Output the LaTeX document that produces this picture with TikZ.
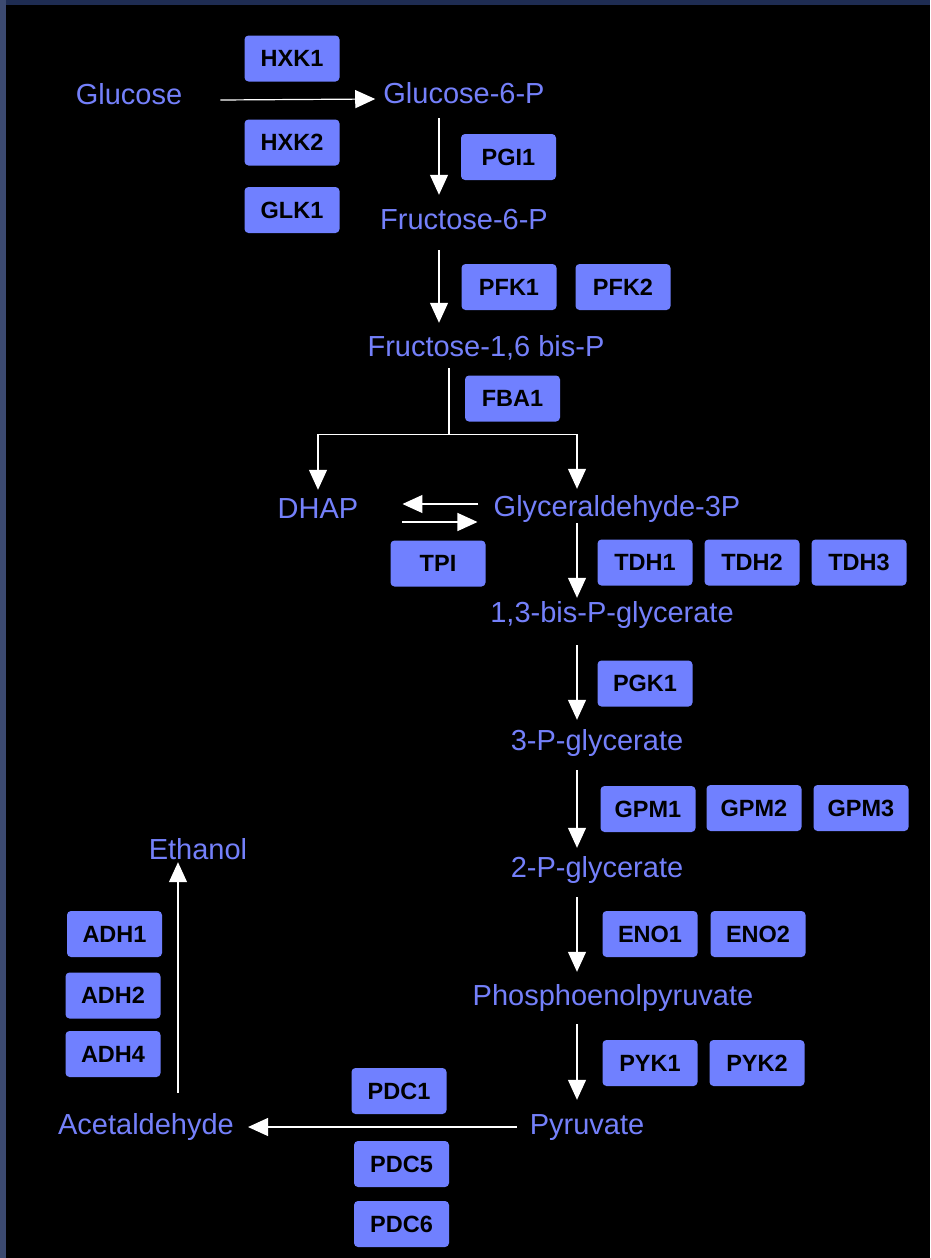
\documentclass[tikz,border=0pt]{standalone}
\usepackage{fontspec}
\setmainfont{Liberation Sans}
\usetikzlibrary{arrows.meta,calc}
\definecolor{enzfill}{RGB}{112,128,255}
\definecolor{mettext}{RGB}{116,128,250}
\definecolor{topbar}{RGB}{30,44,82}
\definecolor{leftbar}{RGB}{60,74,112}
\tikzset{
  met/.style={text=mettext,font=\fontsize{29}{31}\selectfont,inner sep=0pt,
    text height=20pt,text depth=6pt,anchor=base},
  enz/.style={fill=enzfill,rounded corners=4pt,minimum width=95pt,minimum height=46pt,
    inner sep=0pt,font=\fontsize{23.5}{25}\selectfont\bfseries,text=black},
  conn/.style={draw=white,line width=1.2pt},
  arr/.style={conn,-{Triangle[length=20pt,width=18pt]}},
}
\begin{document}
\begin{tikzpicture}[x=1pt,y=-1pt]
\useasboundingbox (0,0) rectangle (930,1258);
\fill[black] (0,0) rectangle (930,1258);
\fill[topbar] (0,0) rectangle (930,5);
\fill[leftbar] (0,0) rectangle (6,1258);

% metabolites
\node[met] (glc) at (129,104) {Glucose};
\node[met] (g6p) at (464,103) {Glucose-6-P};
\node[met] (f6p) at (464,229) {Fructose-6-P};
\node[met] (f16) at (486,356) {Fructose-1,6 bis-P};
\node[met] (dhap) at (318,518) {DHAP};
\node[met] (gap) at (617,516) {Glyceraldehyde-3P};
\node[met] (bpg) at (612,622) {1,3-bis-P-glycerate};
\node[met] (pgc) at (597,750) {3-P-glycerate};
\node[met] (pgb) at (597,877) {2-P-glycerate};
\node[met] (pep) at (613,1005) {Phosphoenolpyruvate};
\node[met] (pyr) at (587,1134) {Pyruvate};
\node[met] (acet) at (146,1134) {Acetaldehyde};
\node[met] (etoh) at (198,859) {Ethanol};

% enzymes
\node[enz] (hxka) at (292,58.5) {HXK1};
\node[enz] (hxkb) at (292,142.5) {HXK2};
\node[enz] (glk) at (292,210) {GLK1};
\node[enz] (pgi) at (508.5,157) {PGI1};
\node[enz] (pfka) at (509,287) {PFK1};
\node[enz] (pfkb) at (623,287) {PFK2};
\node[enz] (fba) at (512.5,398.5) {FBA1};
\node[enz] (tpi) at (438,563.5) {TPI};
\node[enz] (tdha) at (645,562.5) {TDH1};
\node[enz] (tdhb) at (752,562.5) {TDH2};
\node[enz] (tdhc) at (859,562.5) {TDH3};
\node[enz] (pgk) at (645,683.5) {PGK1};
\node[enz] (gpma) at (648,809) {GPM1};
\node[enz] (gpmb) at (754,808) {GPM2};
\node[enz] (gpmc) at (861,808) {GPM3};
\node[enz] (enoa) at (650,934) {ENO1};
\node[enz] (enob) at (758,934) {ENO2};
\node[enz] (pyka) at (650,1063) {PYK1};
\node[enz] (pykb) at (757,1063) {PYK2};
\node[enz] (adha) at (114.5,934) {ADH1};
\node[enz] (adhb) at (113,995.5) {ADH2};
\node[enz] (adhd) at (113,1054) {ADH4};
\node[enz] (pdca) at (399,1091) {PDC1};
\node[enz] (pdce) at (401.5,1164) {PDC5};
\node[enz] (pdcf) at (401.5,1224) {PDC6};

% connectors
\draw[arr] ($(glc.east)+(38,3)$) -- ($(g6p.west)+(-8,3)$);
\draw[arr] ($(g6p.south)+(-25,9)$) -- ($(f6p.north)+(-25,-14)$);
\draw[arr] ($(f6p.south)+(-25,15)$) -- ($(f16.north)+(-47,-13)$);
\coordinate (split) at ($(f16.south)+(-37,72)$);
\draw[conn] ($(f16.south)+(-37,6)$) -- (split);
\draw[arr] (split) -| ($(dhap.north)+(0,-8)$);
\draw[arr] (split) -| ($(gap.north)+(-40,-7)$);
\draw[arr] ($(gap.west)+(-15,-5)$) -- ($(dhap.east)+(44,-7)$);
\draw[arr] ($(dhap.east)+(44,11)$) -- ($(gap.west)+(-16,13)$);
\draw[arr] ($(gap.south)+(-40,1)$) -- ($(bpg.north)+(-35,-4)$);
\draw[arr] ($(bpg.south)+(-35,17)$) -- ($(pgc.north)+(-20,-10)$);
\draw[arr] ($(pgc.south)+(-20,14)$) -- ($(pgb.north)+(-20,-9)$);
\draw[arr] ($(pgb.south)+(-20,14)$) -- ($(pep.north)+(-36,-13)$);
\draw[arr] ($(pep.south)+(-36,13)$) -- ($(pyr.north)+(-10,-14)$);
\draw[arr] ($(pyr.west)+(-13,0)$) -- ($(acet.east)+(14,0)$);
\draw[arr] ($(acet.north)+(32,-21)$) -- ($(etoh.south)+(-20,-3)$);
\end{tikzpicture}
\end{document}
